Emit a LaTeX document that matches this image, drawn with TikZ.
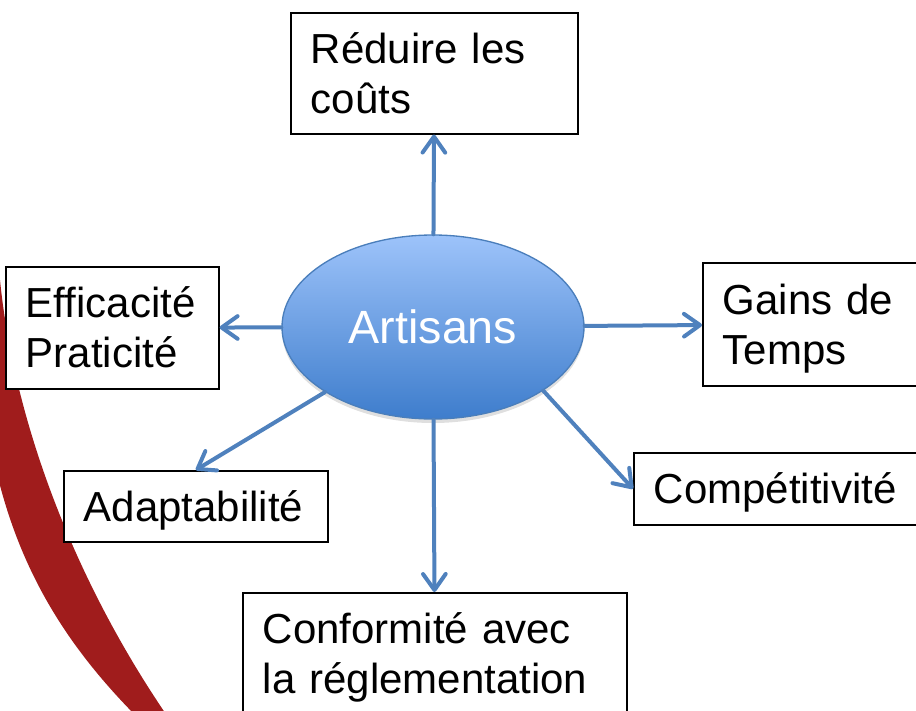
\documentclass[tikz,border=0pt]{standalone}
\usepackage{fontspec}
\setmainfont{Liberation Sans}
\usetikzlibrary{arrows.meta,shapes.geometric,shadows}
\definecolor{arcred}{RGB}{160,28,28}
\definecolor{linkblue}{RGB}{79,129,189}
\definecolor{elltop}{RGB}{157,195,250}
\definecolor{ellbot}{RGB}{62,125,204}
\definecolor{ellline}{RGB}{74,126,187}
\newcommand{\bstrut}{\rule[-7.5pt]{0pt}{37.5pt}}
\begin{document}
\begin{tikzpicture}[x=0.75pt,y=-0.75pt,
  box/.style={draw=black, line width=1.2pt, fill=white, anchor=north west,
    inner xsep=15pt, inner ysep=0pt, align=left,
    font=\fontsize{31.5}{37.5}\selectfont},
  link/.style={draw=linkblue, line width=3pt, line cap=round,
    -{Straight Barb[length=12pt,width=17pt,round]}},
]
\useasboundingbox (0,0) rectangle (916,710);
\clip (0,0) rectangle (916,710);
% red arc
\fill[arcred] (-20,360) .. controls (-8,530) and (50,630) .. (140,720)
  -- (170,720) .. controls (80,590) and (15,430) .. (0,280) -- (-20,280) -- cycle;
% centre
\node[ellipse, minimum width=226.5pt, minimum height=138pt, inner sep=0pt,
  top color=elltop, bottom color=ellbot, draw=ellline, line width=1pt,
  drop shadow={opacity=0.25, shadow xshift=0pt, shadow yshift=-3pt},
  font=\fontsize{35}{42}\selectfont, text=white] (art) at (433,327) {Artisans};
% boxes
\node[box, text width=185.25pt, minimum height=90.75pt] (reduire) at (290,12) {\bstrut Réduire les\\\bstrut coûts};
\node[box, text width=129.75pt, minimum height=91.5pt] (eff) at (5,266) {\bstrut Efficacité\\\bstrut Praticité};
\node[box, text width=130.5pt, minimum height=92.25pt] (gains) at (702,262) {\bstrut Gains de\\\bstrut Temps};
\node[box, text width=168pt, minimum height=53.25pt] (adapt) at (63,470) {\bstrut Adaptabilité};
\node[box, text width=187.5pt, minimum height=54pt] (comp) at (633,452) {\bstrut Compétitivité};
\node[box, text width=258pt, minimum height=91.5pt] (conf) at (242,592) {\bstrut Conformité avec\\\bstrut la réglementation};
% connectors
\draw[link] (art) -- (reduire);
\draw[link] (art) -- (eff);
\draw[link] (art) -- (gains);
\draw[link] (art) -- (adapt.north);
\draw[link] (art.-30) -- (comp.west);
\draw[link] (art) -- (conf);
\end{tikzpicture}
\end{document}
